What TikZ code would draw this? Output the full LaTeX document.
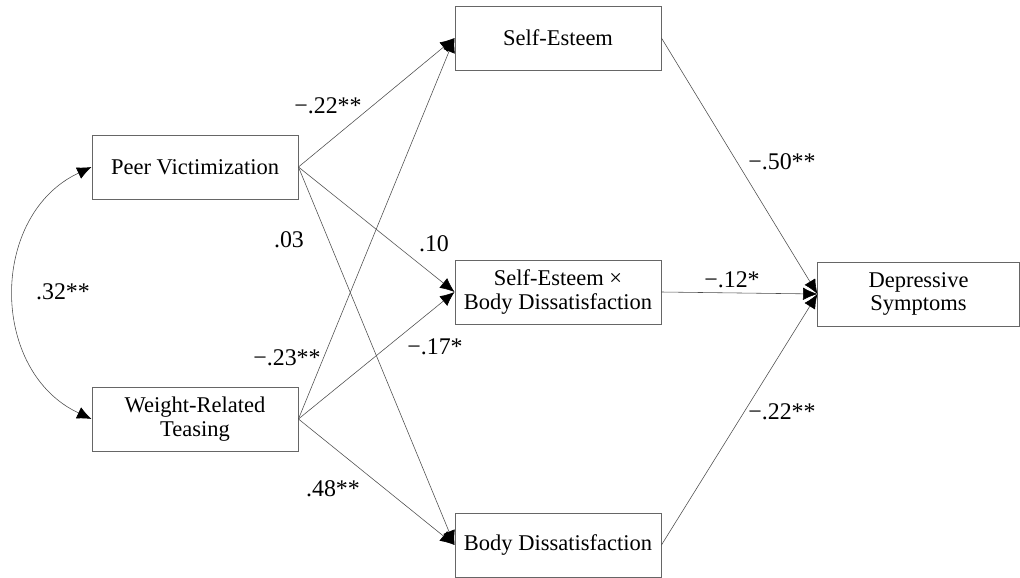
\documentclass[tikz,border=0pt]{standalone}
\usepackage{fontspec}
\setmainfont{Liberation Serif}
\usetikzlibrary{arrows.meta}
\begin{document}
\begin{tikzpicture}[>={Latex[length=3.6mm,width=3.1mm,color=black]}, x=0.025cm, y=-0.025cm,
    hop/.style={draw=black!60, line width=0.6pt, minimum width=5.15cm, minimum height=1.6cm,
        inner sep=0pt, align=center, font=\fontsize{16}{16.8}\selectfont},
    heso/.style={inner sep=0pt, font=\fontsize{17}{18}\selectfont},
    duong/.style={->, draw=black!70, line width=0.4pt}]
    \useasboundingbox (0,0) rectangle (1020,578);

    % Các biến
    \node[hop] (pv) at (195,167) {Peer Victimization};
    \node[hop] (wrt) at (195,419) {Weight-Related\\Teasing};
    \node[hop] (se) at (558,38) {Self-Esteem};
    \node[hop] (sebd) at (558,292) {Self-Esteem ×\\Body Dissatisfaction};
    \node[hop] (bd) at (558,545) {Body Dissatisfaction};
    \node[hop, minimum width=5.03cm] (ds) at (918.5,294) {Depressive\\Symptoms};

    % Đường dẫn
    \draw[duong] (pv.east) -- (se.west);
    \draw[duong] (pv.east) -- (sebd.west);
    \draw[duong] (pv.east) -- (bd.west);
    \draw[duong] (wrt.east) -- (se.west);
    \draw[duong] (wrt.east) -- (sebd.west);
    \draw[duong] (wrt.east) -- (bd.west);
    \draw[duong] (se.east) -- (ds.west);
    \draw[duong] (sebd.east) -- (ds.west);
    \draw[duong] (bd.east) -- (ds.west);

    % Tương quan
    \draw[duong, <->] (pv.west) to[bend right=65, looseness=1.15] (wrt.west);

    % Hệ số
    \node[heso] (h1) at (328,106) {−.22**};
    \node[heso] (h2) at (289,240) {.03};
    \node[heso] (h3) at (434,244) {.10};
    \node[heso] (h4) at (63,292) {.32**};
    \node[heso] (h5) at (287,358) {−.23**};
    \node[heso] (h6) at (435,347) {−.17*};
    \node[heso] (h7) at (333,489) {.48**};
    \node[heso] (h8) at (782,162) {−.50**};
    \node[heso] (h9) at (732,280) {−.12*};
    \node[heso] (h10) at (782,412) {−.22**};
\end{tikzpicture}
\end{document}
